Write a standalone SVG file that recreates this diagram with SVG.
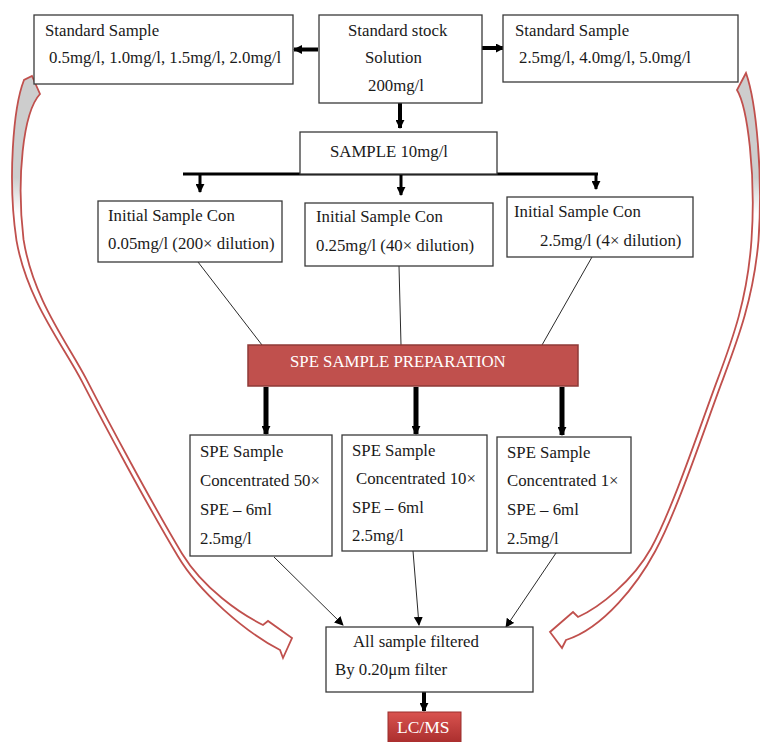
<svg xmlns="http://www.w3.org/2000/svg" width="760" height="742" viewBox="0 0 760 742">
<style>
.box{fill:#fff;stroke:#3a3a3a;stroke-width:1.3}
.t{font-family:"Liberation Serif","Times New Roman",serif;font-size:16.8px;fill:#1a1a1a}
.w{font-family:"Liberation Serif","Times New Roman",serif;font-size:16.8px;fill:#fff}
.thin{stroke:#2a2a2a;stroke-width:1;fill:none}
.thick{stroke:#000;fill:none}
.curve{stroke:#c0504d;stroke-width:1.8;stroke-linejoin:miter}
</style>
<defs>
<marker id="ah" viewBox="0 0 10 10" refX="9" refY="5" markerWidth="9" markerHeight="9" markerUnits="userSpaceOnUse" orient="auto">
<path d="M0,0 L10,5 L0,10 Z" fill="#000"/>
</marker>
<linearGradient id="gl" gradientUnits="userSpaceOnUse" x1="0" y1="76" x2="0" y2="260">
<stop offset="0" stop-color="#cdcdcd"/><stop offset="0.55" stop-color="#cdcdcd"/><stop offset="0.75" stop-color="#fff"/><stop offset="1" stop-color="#fff"/>
</linearGradient>
<linearGradient id="lc" x1="0" y1="0" x2="0" y2="1">
<stop offset="0" stop-color="#d9534f"/><stop offset="1" stop-color="#a52a2a"/>
</linearGradient>
</defs>

<g id="curved-arrows">
<path class="curve" fill="url(#gl)" d="M32,76 L40,94 C22.8,112.6 16.5,179.4 23.5,239.4 C33,299.5 68.2,343.9 86.2,378.9 C107.8,420.9 152.1,503.7 182.1,553.7 C203.4,588.6 240.6,613.8 263,625 L268,621 L292,638 L283,658 L280,650 C245,632 198.6,591.4 177.9,556.3 C147.9,506.3 103.4,423.1 81.8,381.1 C63.8,346.1 27,300.5 16.5,240.6 C7.5,180.6 13.2,107.4 24,80 Z"/>
<path class="curve" fill="url(#gl)" d="M746,73 L737,90 C747.5,107.2 756,174.7 751.5,239.7 C747.5,298.3 732.7,339.1 717.7,379.1 C699.7,427.1 672.8,508.8 650.8,548.8 C632.9,580.7 600,607 578,617 L573,612 L550,632 L562,648 L566,640 C604,628 637.9,583.3 655.2,551.2 C677.2,511.2 704.3,428.9 722.3,380.9 C737.3,340.9 753.5,298.7 758.5,240.3 C763,175.3 756.5,102.8 746,73 Z"/>
</g>

<g id="connectors">
<line class="thick" x1="318" y1="49.5" x2="294" y2="49.5" stroke-width="4" marker-end="url(#ah)"/>
<line class="thick" x1="482" y1="48" x2="504" y2="48" stroke-width="4" marker-end="url(#ah)"/>
<line class="thick" x1="400" y1="103" x2="400" y2="128" stroke-width="4" marker-end="url(#ah)"/>
<line class="thick" x1="183" y1="174" x2="598" y2="174" stroke-width="3"/>
<line class="thick" x1="200" y1="174" x2="200" y2="192" stroke-width="3" marker-end="url(#ah)"/>
<line class="thick" x1="401" y1="174" x2="401" y2="195" stroke-width="3" marker-end="url(#ah)"/>
<line class="thick" x1="596" y1="174" x2="596" y2="189" stroke-width="3" marker-end="url(#ah)"/>
<line class="thin" x1="198" y1="262" x2="262" y2="345"/>
<line class="thin" x1="399" y1="266" x2="401" y2="345"/>
<line class="thin" x1="592" y1="257" x2="542" y2="345"/>
<line class="thick" x1="266" y1="387" x2="266" y2="434" stroke-width="5" marker-end="url(#ah)"/>
<line class="thick" x1="416" y1="387" x2="416" y2="434" stroke-width="5" marker-end="url(#ah)"/>
<line class="thick" x1="562" y1="387" x2="562" y2="435" stroke-width="5" marker-end="url(#ah)"/>
<line class="thin" x1="274" y1="557" x2="343" y2="625" marker-end="url(#ah)"/>
<line class="thin" x1="413" y1="551" x2="419" y2="625" marker-end="url(#ah)"/>
<line class="thin" x1="556" y1="553" x2="506" y2="627" marker-end="url(#ah)"/>
<line class="thick" x1="424" y1="692" x2="424" y2="711" stroke-width="4" marker-end="url(#ah)"/>
</g>

<g id="std-left">
<rect class="box" x="34" y="15" width="259" height="69"/>
<text class="t" x="45" y="36">Standard Sample</text>
<text class="t" x="49" y="63">0.5mg/l, 1.0mg/l, 1.5mg/l, 2.0mg/l</text>
</g>
<g id="stock">
<rect class="box" x="319" y="15" width="163" height="88"/>
<text class="t" x="348" y="36">Standard stock</text>
<text class="t" x="365" y="63">Solution</text>
<text class="t" x="368" y="91">200mg/l</text>
</g>
<g id="std-right">
<rect class="box" x="503" y="15" width="235" height="67"/>
<text class="t" x="515" y="36">Standard Sample</text>
<text class="t" x="519" y="63">2.5mg/l, 4.0mg/l, 5.0mg/l</text>
</g>
<g id="sample">
<rect class="box" x="300" y="132" width="197" height="42"/>
<text class="t" x="330" y="157">SAMPLE 10mg/l</text>
</g>
<g id="init1">
<rect class="box" x="98" y="201" width="184" height="61"/>
<text class="t" x="108" y="221">Initial Sample Con</text>
<text class="t" x="108" y="249">0.05mg/l (200× dilution)</text>
</g>
<g id="init2">
<rect class="box" x="305" y="203" width="188" height="63"/>
<text class="t" x="316" y="222">Initial Sample Con</text>
<text class="t" x="316" y="251">0.25mg/l (40× dilution)</text>
</g>
<g id="init3">
<rect class="box" x="507" y="197" width="186" height="60"/>
<text class="t" x="514" y="217">Initial Sample Con</text>
<text class="t" x="540" y="246">2.5mg/l (4× dilution)</text>
</g>
<g id="spe">
<rect x="248" y="345" width="330" height="41" fill="#c0504d" stroke="#8e3a37" stroke-width="1.5"/>
<text class="w" x="290" y="367">SPE SAMPLE PREPARATION</text>
</g>
<g id="speA">
<rect class="box" x="190" y="435" width="142" height="121"/>
<text class="t" x="200" y="457">SPE Sample</text>
<text class="t" x="200" y="486">Concentrated 50×</text>
<text class="t" x="200" y="515">SPE – 6ml</text>
<text class="t" x="200" y="544">2.5mg/l</text>
</g>
<g id="speB">
<rect class="box" x="342" y="435" width="145" height="116"/>
<text class="t" x="352" y="456">SPE Sample</text>
<text class="t" x="356" y="484">Concentrated 10×</text>
<text class="t" x="352" y="513">SPE – 6ml</text>
<text class="t" x="352" y="541">2.5mg/l</text>
</g>
<g id="speC">
<rect class="box" x="497" y="437" width="134" height="116"/>
<text class="t" x="507" y="458">SPE Sample</text>
<text class="t" x="507" y="486">Concentrated 1×</text>
<text class="t" x="507" y="515">SPE – 6ml</text>
<text class="t" x="507" y="544">2.5mg/l</text>
</g>
<g id="filter">
<rect class="box" x="326" y="627" width="207" height="65"/>
<text class="t" x="353" y="647">All sample filtered</text>
<text class="t" x="335" y="675">By 0.20μm filter</text>
</g>
<g id="lcms">
<rect x="388" y="712" width="73" height="34" fill="url(#lc)" stroke="#9a2f2c" stroke-width="1"/>
<text class="w" x="397" y="733" style="font-size:17.5px">LC/MS</text>
</g>
</svg>
